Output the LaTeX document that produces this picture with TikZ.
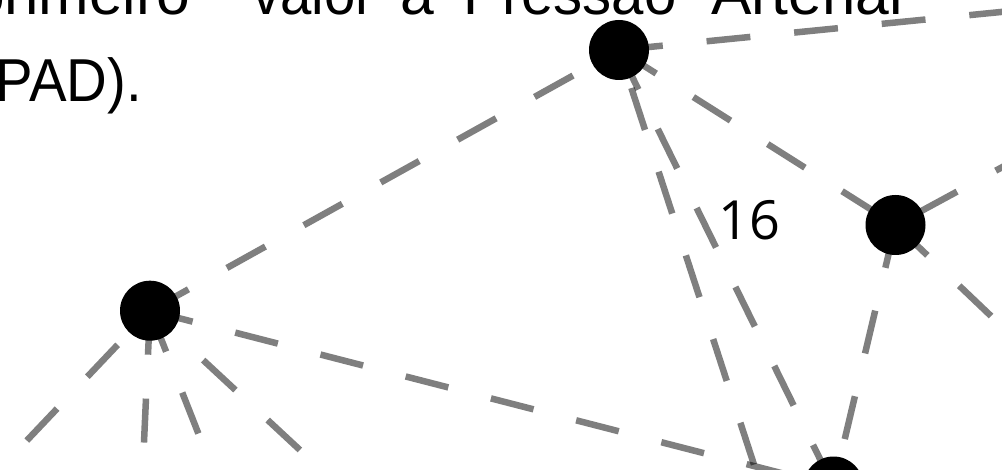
\documentclass[tikz,border=0pt]{standalone}
\usepackage{fontspec}
\setmainfont{Liberation Sans}
\newfontfamily\labelfont{Open Sans}
\pgfdeclarelayer{background}
\pgfsetlayers{background,main}
\begin{document}
\begin{tikzpicture}[x=1pt,y=-1pt,
  edge/.style={draw=black, draw opacity=0.5, line width=6.5pt, dash pattern=on 44pt off 44pt},
  vertex/.style={circle, fill=black, minimum size=60pt, inner sep=0pt},
  bodytext/.style={font=\fontsize{60.6}{70}\selectfont, anchor=base west, inner sep=0pt, text=black},
  numlabel/.style={font=\labelfont\fontsize{54}{60}\selectfont, anchor=base, inner sep=0pt, text=black}]
\useasboundingbox (0,0) rectangle (1002,470);
\clip (0,0) rectangle (1002,470);
% text
\node[bodytext] (w1) at (-29,14.5) {primeiro};
\node[bodytext] (w2) at (252,14.5) {\scalebox{0.93}[1]{valor}};
\node[bodytext] (w3) at (400,14.5) {a};
\node[bodytext] (w4) at (463,14.5) {\scalebox{0.96}[1]{Pressão}};
\node[bodytext] (w5) at (711,14.5) {Arterial};
\node[bodytext] (w6) at (-4.4,101.5) {\scalebox{0.93}[1]{PAD).}};
% vertices
\node[vertex] (A) at (619,50) {};
\node[vertex] (B) at (895.5,225) {};
\node[vertex] (C) at (150,310.7) {};
\node[vertex] (D) at (833.5,486.5) {};
% off-picture ends
\coordinate (E) at (780,544.5);
\coordinate (G) at (1116.5,0.5);
\coordinate (F) at (1115,106);
\coordinate (H) at (1112.7,432);
\coordinate (I) at (-22,492);
\coordinate (J) at (138.6,560.4);
\coordinate (K) at (241.6,543.3);
\coordinate (L) at (369.8,514.9);
\node[numlabel] (n16) at (749.1,239.5) {16};
\begin{pgfonlayer}{background}
\draw[edge] (A.center) -- (B.center);
\draw[edge] (C.center) -- (A.center);
\draw[edge] (A.center) -- (D.center);
\draw[edge, dash phase=48pt] (A.center) -- (E);
\draw[edge] (A.center) -- (G);
\draw[edge] (B.center) -- (D.center);
\draw[edge, dash phase=62pt] (B.center) -- (F);
\draw[edge] (B.center) -- (H);
\draw[edge] (C.center) -- (D.center);
\draw[edge, dash phase=41pt] (C.center) -- (I);
\draw[edge] (C.center) -- (J);
\draw[edge] (C.center) -- (K);
\draw[edge, dash phase=15.4pt] (C.center) -- (L);
\end{pgfonlayer}
\end{tikzpicture}
\end{document}
